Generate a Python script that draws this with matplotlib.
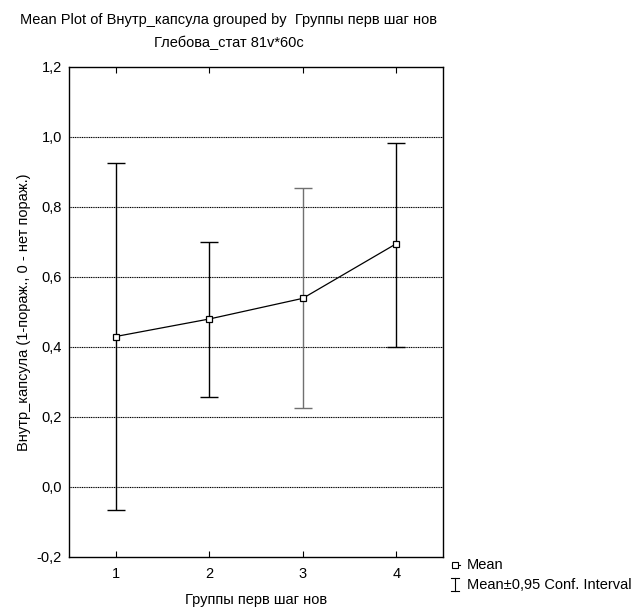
import numpy as np
import matplotlib
matplotlib.use("Agg")
import matplotlib.pyplot as plt
from matplotlib.lines import Line2D

plt.rcParams['font.family'] = ['Liberation Sans', 'DejaVu Sans']
FS = 10.5

# --- data ---
groups = [1, 2, 3, 4]
means = [0.430, 0.480, 0.539, 0.695]
lower = [-0.066, 0.258, 0.225, 0.401]
upper = [0.925, 0.699, 0.853, 0.984]
bar_colors = ['black', 'black', '#707070', 'black']
yticks = [-0.2, 0.0, 0.2, 0.4, 0.6, 0.8, 1.0, 1.2]
ytick_labels = ['-0,2', '0,0', '0,2', '0,4', '0,6', '0,8', '1,0', '1,2']

fig = plt.figure(figsize=(6.32, 6.10), dpi=100)
ax = fig.add_axes([69/632, 1-557/610, 374/632, 490/610])

# grid lines
for v in yticks[1:-1]:
    ax.axhline(v, color='black', lw=0.8, ls=(0, (1, 0.6)), zorder=1)

# confidence intervals
for g, m, lo, up, c in zip(groups, means, lower, upper, bar_colors):
    ax.errorbar([g], [m], yerr=[[m - lo], [up - m]], fmt='none',
                ecolor=c, elinewidth=1.0, capsize=6.5, capthick=1.0, zorder=2)

ax.plot(groups, means, color='black', lw=0.9, marker='s', ms=5,
        mfc='white', mec='black', mew=0.9, zorder=3)

ax.set_xlim(0.5, 4.5)
ax.set_ylim(-0.2, 1.2)
ax.set_xticks(groups)
ax.set_xticklabels([str(g) for g in groups], fontsize=FS)
ax.set_yticks(yticks)
ax.set_yticklabels(ytick_labels, fontsize=FS)
ax.tick_params(axis='x', direction='in', top=True, length=4, width=0.8, pad=7)
ax.tick_params(axis='y', direction='out', length=0, pad=5)
for s in ax.spines.values():
    s.set_linewidth(1.0)

ax.set_xlabel("Группы перв шаг нов", fontsize=FS, labelpad=9)
ax.set_ylabel("Внутр_капсула (1-пораж., 0 - нет пораж.)", fontsize=FS, labelpad=4)

fig.text(229/632, 1-20/610, "Mean Plot of Внутр_капсула grouped by  Группы перв шаг нов",
         ha='center', va='center', fontsize=FS)
fig.text(229/632, 1-43/610, "Глебова_стат 81v*60c", ha='center', va='center', fontsize=FS)

# legend, drawn by hand
tf = fig.transFigure
fig.add_artist(Line2D([452/632, 460/632], [1-565/610, 1-565/610], color='black',
                      lw=0.8, transform=tf))
fig.add_artist(Line2D([455/632], [1-565/610], ls='none', marker='s', ms=4.5,
                      mfc='white', mec='black', mew=0.8, transform=tf))
fig.text(467/632, 1-565/610, "Mean", ha='left', va='center', fontsize=FS)
fig.add_artist(Line2D([455/632, 455/632], [1-578/610, 1-591/610], color='black',
                      lw=0.8, transform=tf))
fig.add_artist(Line2D([451/632, 459/632], [1-578/610, 1-578/610], color='black',
                      lw=0.8, transform=tf))
fig.add_artist(Line2D([451/632, 459/632], [1-591/610, 1-591/610], color='black',
                      lw=0.8, transform=tf))
fig.text(467/632, 1-585/610, "Mean±0,95 Conf. Interval", ha='left', va='center',
         fontsize=FS)

fig.savefig("out.png", dpi=100)
